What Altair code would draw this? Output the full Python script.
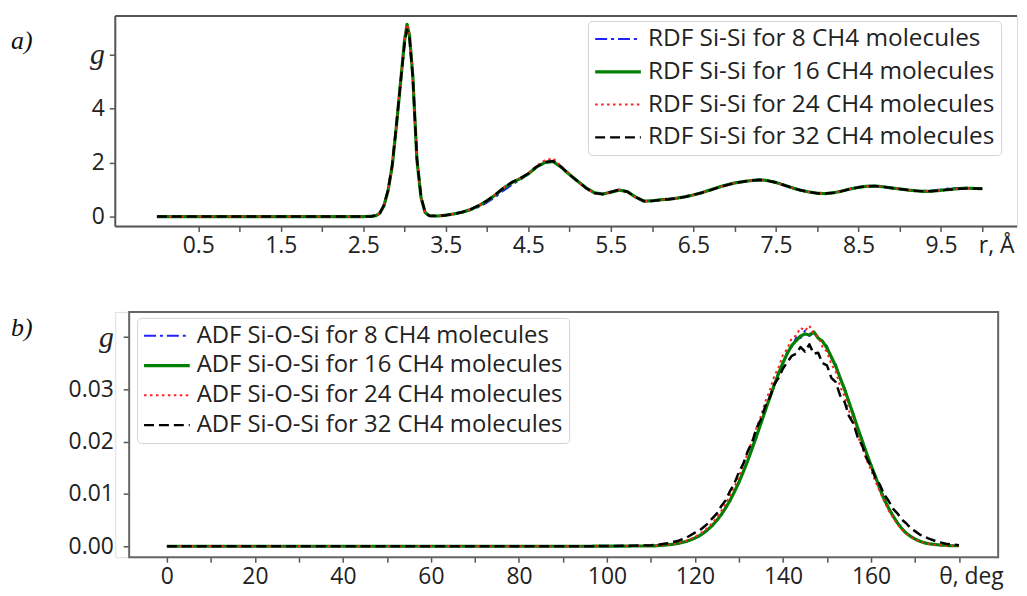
import altair as alt
import pandas as pd

# ---------------- data ----------------
R = [0.0, 0.5, 1.0, 1.5, 2.0, 2.5, 2.6, 2.65, 2.7, 2.75, 2.8, 2.85, 2.9, 2.95,
     3.0, 3.03, 3.06, 3.1, 3.15, 3.2, 3.25, 3.3,
     3.4, 3.5, 3.6, 3.7, 3.8, 3.9, 4.0, 4.1, 4.2, 4.3,
     4.4, 4.5, 4.6, 4.7, 4.8, 4.9, 5.0, 5.1, 5.2, 5.3,
     5.4, 5.5, 5.6, 5.7, 5.8, 5.9, 6.0, 6.1, 6.2, 6.3,
     6.4, 6.5, 6.6, 6.7, 6.8, 6.9, 7.0, 7.1, 7.2, 7.3,
     7.4, 7.5, 7.6, 7.7, 7.8, 7.9, 8.0, 8.1, 8.2, 8.3,
     8.4, 8.5, 8.6, 8.7, 8.8, 8.9, 9.0, 9.1, 9.2, 9.3,
     9.4, 9.5, 9.6, 9.7, 9.8, 9.9, 10.0]

RDF_8 = [0, 0, 0, 0, 0, 0, 0.01, 0.03, 0.11, 0.38, 0.93, 1.82, 3.25, 4.85,
         6.45, 7.05, 6.7, 5.25, 2.15, 0.72, 0.16, 0.03,
         0.02, 0.05, 0.09, 0.15, 0.24, 0.36, 0.52, 0.72, 0.96, 1.17,
         1.36, 1.57, 1.82, 1.99, 2.04, 1.84, 1.56, 1.31, 1.07, 0.89,
         0.84, 0.90, 0.98, 0.93, 0.73, 0.58, 0.59, 0.62, 0.65, 0.69,
         0.74, 0.81, 0.89, 0.99, 1.09, 1.18, 1.25, 1.30, 1.34, 1.37,
         1.34, 1.27, 1.17, 1.07, 0.98, 0.91, 0.86, 0.86, 0.89, 0.95,
         1.03, 1.09, 1.12, 1.12, 1.09, 1.04, 1.00, 0.97, 0.95, 0.95,
         0.97, 1.00, 1.04, 1.06, 1.06, 1.05, 1.03]
RDF_16 = [0, 0, 0, 0, 0, 0, 0.01, 0.03, 0.12, 0.40, 0.95, 1.85, 3.3, 4.9,
          6.5, 7.1, 6.7, 5.2, 2.1, 0.7, 0.15, 0.03,
          0.02, 0.05, 0.10, 0.16, 0.26, 0.40, 0.58, 0.80, 1.05, 1.25,
          1.40, 1.58, 1.83, 2.00, 2.03, 1.82, 1.55, 1.30, 1.06, 0.88,
          0.83, 0.90, 0.98, 0.92, 0.72, 0.57, 0.58, 0.62, 0.64, 0.68,
          0.73, 0.80, 0.88, 0.98, 1.08, 1.17, 1.24, 1.29, 1.33, 1.36,
          1.33, 1.26, 1.16, 1.06, 0.97, 0.91, 0.86, 0.85, 0.88, 0.94,
          1.02, 1.08, 1.12, 1.13, 1.10, 1.06, 1.02, 0.98, 0.95, 0.93,
          0.94, 0.97, 1.00, 1.03, 1.05, 1.04, 1.03]
RDF_24 = [0, 0, 0, 0, 0, 0, 0.01, 0.03, 0.12, 0.41, 0.96, 1.86, 3.3, 4.95,
          6.55, 7.1, 6.75, 5.2, 2.1, 0.7, 0.14, 0.03,
          0.02, 0.05, 0.10, 0.16, 0.27, 0.41, 0.59, 0.81, 1.06, 1.26,
          1.42, 1.61, 1.88, 2.08, 2.15, 1.86, 1.57, 1.29, 1.04, 0.86,
          0.82, 0.90, 0.99, 0.91, 0.71, 0.56, 0.58, 0.61, 0.64, 0.68,
          0.73, 0.80, 0.88, 0.98, 1.08, 1.17, 1.24, 1.29, 1.33, 1.35,
          1.32, 1.25, 1.16, 1.06, 0.97, 0.91, 0.86, 0.85, 0.88, 0.94,
          1.02, 1.08, 1.12, 1.13, 1.10, 1.06, 1.02, 0.98, 0.95, 0.93,
          0.94, 0.97, 1.00, 1.03, 1.04, 1.04, 1.03]
RDF_32 = [0, 0, 0, 0, 0, 0, 0.01, 0.04, 0.13, 0.42, 0.98, 1.9, 3.35, 4.9,
          6.4, 6.9, 6.6, 5.15, 2.15, 0.72, 0.15, 0.03,
          0.02, 0.05, 0.10, 0.17, 0.27, 0.41, 0.59, 0.81, 1.06, 1.27,
          1.41, 1.59, 1.84, 2.01, 2.05, 1.83, 1.55, 1.30, 1.05, 0.87,
          0.83, 0.91, 0.99, 0.92, 0.72, 0.57, 0.58, 0.61, 0.64, 0.68,
          0.73, 0.80, 0.88, 0.97, 1.07, 1.16, 1.24, 1.29, 1.33, 1.35,
          1.32, 1.26, 1.16, 1.06, 0.97, 0.91, 0.86, 0.85, 0.88, 0.94,
          1.02, 1.08, 1.12, 1.13, 1.10, 1.06, 1.02, 0.98, 0.95, 0.93,
          0.94, 0.97, 1.00, 1.03, 1.04, 1.04, 1.03]

THETA = [0, 10, 20, 30, 40, 50, 60, 70, 80, 90, 100,
         110, 111, 112, 113, 114, 115, 116, 117, 118, 119,
         120, 121, 122, 123, 124, 125, 126, 127, 128, 129,
         130, 131, 132, 133, 134, 135, 136, 137, 138, 139,
         140, 141, 142, 143, 144, 145, 146, 147, 148, 149,
         150, 151, 152, 153, 154, 155, 156, 157, 158, 159,
         160, 161, 162, 163, 164, 165, 166, 167, 168, 169,
         170, 171, 172, 173, 174, 175, 176, 177, 178, 179,
         180]

ADF_8 = [0, 0, 0, 0, 0, 0, 0, 0, 0, 0, 0.00002,
         0.00006, 0.0001, 0.00014, 0.0002, 0.0003, 0.00037, 0.0005, 0.00068, 0.0009, 0.0012,
         0.0015, 0.0019, 0.0025, 0.0031, 0.0039, 0.0050, 0.0059, 0.0074, 0.0086, 0.0106,
         0.0121, 0.0145, 0.0162, 0.0189, 0.0208, 0.0238, 0.0257, 0.0287, 0.0305, 0.0334,
         0.0348, 0.0373, 0.0381, 0.0399, 0.0398, 0.0412, 0.0402, 0.0408, 0.0401, 0.0389,
         0.0383, 0.0359, 0.0348, 0.0319, 0.0303, 0.0273, 0.0254, 0.0223, 0.0204, 0.0176,
         0.0157, 0.0132, 0.0112, 0.0092, 0.0074, 0.0058, 0.0046, 0.0034, 0.0026, 0.0019,
         0.0014, 0.0010, 0.0007, 0.0005, 0.0004, 0.0003, 0.0002, 0.0002, 0.0001, 0.0001,
         0.0001]
ADF_16 = [0, 0, 0, 0, 0, 0, 0, 0, 0, 0, 0.00002,
          0.00007, 0.00009, 0.00015, 0.00021, 0.00029, 0.00039, 0.00053, 0.0007, 0.00093, 0.00122,
          0.00158, 0.00203, 0.00258, 0.00324, 0.00404, 0.00498, 0.00609, 0.00736, 0.00882, 0.01045,
          0.01228, 0.01426, 0.0164, 0.0187, 0.0211, 0.0235, 0.0260, 0.0284, 0.0308, 0.0330,
          0.0351, 0.0369, 0.0384, 0.0393, 0.0402, 0.0406, 0.0404, 0.0410, 0.0398, 0.0392,
          0.0379, 0.0362, 0.0344, 0.0322, 0.0300, 0.0276, 0.0251, 0.0226, 0.0202, 0.0178,
          0.0155, 0.0134, 0.0110, 0.0090, 0.0073, 0.0058, 0.0045, 0.0034, 0.0025, 0.0019,
          0.0014, 0.0010, 0.0007, 0.0005, 0.0004, 0.0003, 0.0002, 0.0002, 0.0001, 0.0001,
          0.0001]
ADF_24 = [0, 0, 0, 0, 0, 0, 0, 0, 0, 0, 0.00002,
          0.00008, 0.00011, 0.00017, 0.00024, 0.00033, 0.00044, 0.0006, 0.0008, 0.00105, 0.0014,
          0.0018, 0.0023, 0.0029, 0.0036, 0.0045, 0.0055, 0.0068, 0.0081, 0.0098, 0.0114,
          0.0135, 0.0154, 0.0179, 0.0200, 0.0227, 0.0249, 0.0277, 0.0298, 0.0325, 0.0342,
          0.0366, 0.0378, 0.0398, 0.0403, 0.0418, 0.0412, 0.0422, 0.0405, 0.0401, 0.0381,
          0.0372, 0.0348, 0.0334, 0.0305, 0.0287, 0.0259, 0.0238, 0.0211, 0.0190, 0.0165,
          0.0146, 0.0124, 0.0105, 0.0086, 0.0069, 0.0055, 0.0042, 0.0032, 0.0024, 0.0018,
          0.0013, 0.0009, 0.0007, 0.0005, 0.0003, 0.0003, 0.0002, 0.0001, 0.0001, 0.0001,
          0.0001]
ADF_32 = [0, 0, 0, 0, 0, 0, 0, 0, 0, 0, 0.00004,
          0.0002, 0.00026, 0.00035, 0.0005, 0.0006, 0.0008, 0.001, 0.0013, 0.0016, 0.0021,
          0.0026, 0.0030, 0.0037, 0.0044, 0.0054, 0.0063, 0.0077, 0.0088, 0.0106, 0.0121,
          0.0142, 0.0158, 0.0182, 0.0199, 0.0226, 0.0243, 0.0268, 0.0284, 0.0309, 0.0322,
          0.0340, 0.0352, 0.0364, 0.0368, 0.0381, 0.0372, 0.0386, 0.0368, 0.0370, 0.0350,
          0.0346, 0.0322, 0.0314, 0.0288, 0.0276, 0.0249, 0.0235, 0.0208, 0.0193, 0.0168,
          0.0153, 0.0131, 0.0118, 0.0099, 0.0087, 0.0072, 0.0063, 0.0051, 0.0044, 0.0035,
          0.0029, 0.0023, 0.0019, 0.0015, 0.0012, 0.0009, 0.0007, 0.0005, 0.0004, 0.0003,
          0.0002]

RDF_NAMES = ["RDF Si-Si for 8 CH4 molecules", "RDF Si-Si for 16 CH4 molecules",
             "RDF Si-Si for 24 CH4 molecules", "RDF Si-Si for 32 CH4 molecules"]
ADF_NAMES = ["ADF Si-O-Si for 8 CH4 molecules", "ADF Si-O-Si for 16 CH4 molecules",
             "ADF Si-O-Si for 24 CH4 molecules", "ADF Si-O-Si for 32 CH4 molecules"]

R_TICKS = [0.5, 1.0, 1.5, 2.0, 2.5, 3.0, 3.5, 4.0, 4.5, 5.0,
           5.5, 6.0, 6.5, 7.0, 7.5, 8.0, 8.5, 9.0, 9.5, 10.0]
G_TICKS_TOP = [0, 2, 4, 6]
THETA_TICKS = [0, 10, 20, 30, 40, 50, 60, 70, 80, 90, 100,
               110, 120, 130, 140, 150, 160, 170, 180]
G_TICKS_BOTTOM = [0.0, 0.01, 0.02, 0.03, 0.04]

# ---------------- styles ----------------
COLORS = ["#2020ff", "#008000", "#ff2020", "#000000"]
DASHES = [[12, 4, 3, 4], [1, 0], [2.5, 3.5], [10, 5]]
WIDTHS = [2, 3.2, 2, 2.5]
FONT = "Open Sans"
LABEL_COLOR = "#222222"
FRAME = "#555555"

W1, H1 = 908, 212
W2, H2 = 889, 247


def build(xs, names, series, xname, yname):
    rows = []
    for name, vals in zip(names, series):
        assert len(vals) == len(xs)
        for a, b in zip(xs, vals):
            rows.append({"series": name, xname: a, yname: b})
    return pd.DataFrame(rows)


rdf = build(R, RDF_NAMES, [RDF_8, RDF_16, RDF_24, RDF_32], "r", "g")
adf = build(THETA, ADF_NAMES, [ADF_8, ADF_16, ADF_24, ADF_32], "theta", "g")
one = pd.DataFrame({"k": [0]})


def legend(x, y, rowpad, size):
    return alt.Legend(title=None, orient="none", legendX=x, legendY=y,
                      labelFont=FONT, labelFontSize=size, labelColor=LABEL_COLOR,
                      labelLimit=0, symbolType="M-4.6,0H4.6", symbolSize=100,
                      symbolOffset=12, labelOffset=18, padding=6,
                      rowPadding=rowpad, fillColor="white",
                      strokeColor="#d4d4d4", cornerRadius=4)


def lines(df, xfield, xscale, yscale, xaxis, yaxis, names, leg):
    return alt.Chart(df).mark_line(strokeJoin="round").encode(
        x=alt.X(f"{xfield}:Q", scale=xscale, axis=xaxis),
        y=alt.Y("g:Q", scale=yscale, axis=yaxis),
        color=alt.Color("series:N", scale=alt.Scale(domain=names, range=COLORS),
                        sort=names, legend=leg),
        strokeDash=alt.StrokeDash("series:N", scale=alt.Scale(domain=names, range=DASHES),
                                  sort=names, legend=leg),
        strokeWidth=alt.StrokeWidth("series:N",
                                    scale=alt.Scale(type="ordinal", domain=names, range=WIDTHS),
                                    sort=names, legend=leg),
    )


def g_conditions(gval):
    test = f"datum.value == {gval}"
    return dict(
        labelFont=alt.condition(test, alt.value("Liberation Serif"), alt.value(FONT)),
        labelFontStyle=alt.condition(test, alt.value("italic"), alt.value("normal")),
        labelFontSize=alt.condition(test, alt.value(30), alt.value(23)),
    )


# ---------------- top panel (RDF) ----------------
x_top = alt.Axis(values=R_TICKS, title=None, grid=False, domain=False,
                 tickSize=5, tickWidth=1.5, tickColor=FRAME,
                 labelFont=FONT, labelFontSize=23, labelColor=LABEL_COLOR,
                 labelPadding=3, labelOverlap=False, labelFlush=False,
                 labelOffset=alt.condition("datum.value == 10", alt.value(14), alt.value(0)),
                 labelExpr="datum.value == 10 ? 'r, Å' : (round(datum.value * 2) % 2 == 1 ? format(datum.value, '.1f') : '')")
y_top = alt.Axis(values=G_TICKS_TOP, title=None, grid=False, domain=False,
                 tickSize=6, tickWidth=1.5, tickColor=FRAME,
                 labelColor=LABEL_COLOR, labelPadding=5, labelOverlap=False,
                 labelFlush=False,
                 labelExpr="datum.value == 6 ? 'g' : format(datum.value, 'd')",
                 **g_conditions(6))

top_lines = lines(rdf, "r",
                  alt.Scale(domain=[-0.505, 10.421], nice=False, zero=False),
                  alt.Scale(domain=[-0.367, 7.413], nice=False, zero=False),
                  x_top, y_top, RDF_NAMES, legend(476, 5, 8, 24.5))

frame_top = alt.layer(
    alt.Chart(one).mark_rule(color=FRAME, strokeWidth=2).encode(
        x=alt.value(0), x2=alt.value(W1), y=alt.value(0)),
    alt.Chart(one).mark_rule(color=FRAME, strokeWidth=2).encode(
        x=alt.value(0), x2=alt.value(W1), y=alt.value(H1)),
    alt.Chart(one).mark_rule(color=FRAME, strokeWidth=2).encode(
        x=alt.value(0), y=alt.value(0), y2=alt.value(H1)),
)
label_a = alt.Chart(one).mark_text(font="Liberation Serif", fontStyle="italic",
                                   fontSize=26, align="left", baseline="alphabetic",
                                   color="#111").encode(
    x=alt.value(-105), y=alt.value(33), text=alt.value("a)"))

top = alt.layer(frame_top, top_lines, label_a).properties(width=W1, height=H1)

# ---------------- bottom panel (ADF) ----------------
x_bot = alt.Axis(values=THETA_TICKS, title=None, grid=False, domain=False,
                 tickSize=5, tickWidth=1.5, tickColor=FRAME,
                 labelFont=FONT, labelFontSize=23, labelColor=LABEL_COLOR,
                 labelPadding=3, labelOverlap=False, labelFlush=False,
                 labelOffset=alt.condition("datum.value == 180", alt.value(12), alt.value(0)),
                 labelExpr="datum.value == 180 ? 'θ, deg' : (datum.value % 20 == 0 ? format(datum.value, 'd') : '')")
y_bot = alt.Axis(values=G_TICKS_BOTTOM, title=None, grid=False, domain=False,
                 offset=-14, tickSize=6, tickWidth=1.5, tickColor=FRAME,
                 labelColor=LABEL_COLOR, labelPadding=10, labelOverlap=False,
                 labelFlush=False,
                 labelExpr="datum.value > 0.035 ? 'g' : format(datum.value, '.2f')",
                 **g_conditions(0.04))

bot_lines = lines(adf, "theta",
                  alt.Scale(domain=[-11.735, 188.9], nice=False, zero=False),
                  alt.Scale(domain=[-0.00209, 0.04481], nice=False, zero=False),
                  x_bot, y_bot, ADF_NAMES, legend(22, 6, 6, 24))

frame_bot = alt.Chart(one).mark_rect(filled=False, stroke="#666666", strokeWidth=2).encode(
    x=alt.value(14), x2=alt.value(W2), y=alt.value(0), y2=alt.value(H2))
label_b = alt.Chart(one).mark_text(font="Liberation Serif", fontStyle="italic",
                                   fontSize=26, align="left", baseline="alphabetic",
                                   color="#111").encode(
    x=alt.value(-105), y=alt.value(24), text=alt.value("b)"))

bottom = alt.layer(frame_bot, bot_lines, label_b).properties(width=W2, height=H2)

chart = alt.vconcat(top, bottom, spacing=52).resolve_scale(
    color="independent", strokeDash="independent", strokeWidth="independent",
    x="independent", y="independent"
).resolve_legend(
    color="independent", strokeDash="independent", strokeWidth="independent"
).properties(
    padding={"left": 2, "top": 4, "right": 0, "bottom": 0}
).configure_view(strokeWidth=0).configure(background="white")

chart.save("out.html", embed_options={"renderer": "svg", "actions": False})
